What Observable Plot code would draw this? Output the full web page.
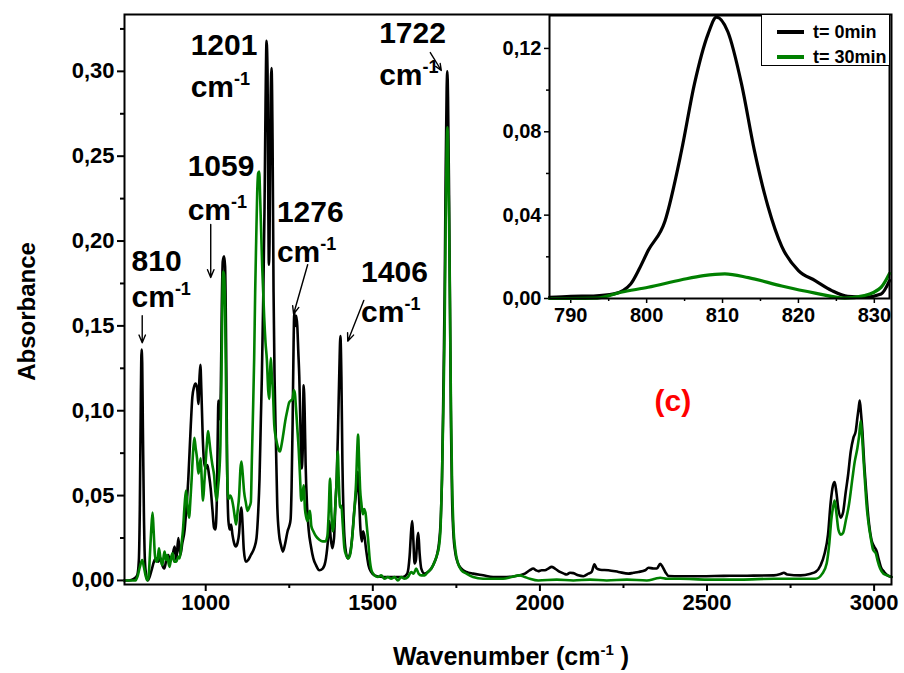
<!DOCTYPE html>
<html><head><meta charset="utf-8">
<script src="https://cdn.jsdelivr.net/npm/d3@7"></script>
<script src="https://cdn.jsdelivr.net/npm/@observablehq/plot@0.6"></script>
<style>
body{margin:0;background:#fff;}
#wrap{position:relative;width:904px;height:673px;}
#wrap svg{position:absolute;left:0;top:0;overflow:visible;}
#legend{position:absolute;left:761px;top:15px;width:128px;height:51px;border-left:1.5px solid #000;border-bottom:1.5px solid #000;box-sizing:border-box;background:#fff;font-family:"Liberation Sans",Arial,sans-serif;font-weight:bold;font-size:18px;}
#legend .ln{position:absolute;left:15px;width:27px;height:4px;}
#legend .lt{position:absolute;left:51px;line-height:18px;}
</style>
</head><body>
<div id="wrap"></div>
<script>
// ---------------- data ----------------
const seriesNames = ["t= 0min", "t= 30min"];
const seriesColors = ["#000000", "#008000"];

// main spectrum, t = 0 min : [wavenumber (cm-1), absorbance]
const black0 = [[757,0.000],[770,0.000],[785,0.001],[795,0.003],[800,0.012],[803,0.045],[806,0.110],[808,0.136],[810,0.128],[812,0.090],[815,0.040],[818,0.012],[822,0.003],[827,0.000],[832,0.002],[838,0.006],[845,0.011],[852,0.013],[858,0.011],[865,0.013],[870,0.009],[876,0.007],[882,0.012],[888,0.015],[893,0.011],[900,0.014],[907,0.020],[912,0.012],[918,0.025],[924,0.015],[930,0.022],[937,0.030],[943,0.045],[948,0.060],[955,0.090],[960,0.108],[965,0.114],[970,0.116],[975,0.112],[978,0.104],[981,0.118],[984,0.127],[987,0.112],[991,0.085],[995,0.070],[1000,0.066],[1005,0.068],[1010,0.062],[1015,0.054],[1020,0.042],[1025,0.031],[1029,0.030],[1033,0.045],[1036,0.085],[1038,0.106],[1041,0.095],[1045,0.110],[1048,0.160],[1051,0.188],[1055,0.191],[1058,0.185],[1061,0.140],[1064,0.070],[1068,0.035],[1072,0.030],[1076,0.033],[1080,0.027],[1085,0.022],[1090,0.020],[1095,0.022],[1100,0.028],[1104,0.040],[1107,0.043],[1110,0.034],[1114,0.018],[1120,0.011],[1127,0.012],[1135,0.015],[1145,0.019],[1152,0.025],[1157,0.040],[1161,0.060],[1165,0.095],[1168,0.120],[1172,0.165],[1176,0.220],[1179,0.280],[1182,0.318],[1185,0.300],[1187,0.230],[1189,0.186],[1191,0.200],[1194,0.280],[1197,0.302],[1200,0.260],[1203,0.170],[1206,0.120],[1210,0.082],[1214,0.045],[1219,0.028],[1225,0.021],[1231,0.017],[1238,0.022],[1245,0.029],[1250,0.032],[1254,0.036],[1257,0.055],[1260,0.092],[1263,0.140],[1265,0.158],[1268,0.150],[1271,0.156],[1274,0.150],[1277,0.135],[1280,0.120],[1283,0.095],[1287,0.066],[1290,0.075],[1293,0.115],[1296,0.100],[1299,0.068],[1303,0.045],[1308,0.030],[1315,0.020],[1322,0.013],[1330,0.009],[1340,0.006],[1350,0.007],[1358,0.011],[1365,0.022],[1370,0.035],[1374,0.025],[1379,0.019],[1384,0.025],[1388,0.045],[1392,0.060],[1396,0.090],[1400,0.125],[1403,0.144],[1406,0.120],[1409,0.070],[1413,0.035],[1418,0.019],[1425,0.013],[1432,0.016],[1438,0.025],[1444,0.040],[1450,0.052],[1455,0.064],[1459,0.048],[1463,0.030],[1467,0.023],[1471,0.029],[1475,0.026],[1480,0.018],[1487,0.009],[1495,0.005],[1505,0.003],[1530,0.002],[1560,0.002],[1590,0.002],[1603,0.004],[1610,0.014],[1615,0.030],[1618,0.035],[1621,0.025],[1625,0.010],[1629,0.012],[1633,0.024],[1636,0.028],[1640,0.016],[1645,0.007],[1655,0.004],[1665,0.005],[1675,0.007],[1685,0.011],[1692,0.015],[1698,0.022],[1703,0.035],[1707,0.060],[1711,0.110],[1715,0.170],[1718,0.240],[1721,0.290],[1723,0.300],[1725,0.285],[1728,0.230],[1731,0.160],[1734,0.090],[1737,0.050],[1741,0.028],[1747,0.016],[1755,0.010],[1765,0.007],[1780,0.005],[1800,0.004],[1830,0.003],[1860,0.002],[1890,0.002],[1925,0.0025],[1955,0.004],[1970,0.006],[1980,0.007],[1988,0.006],[1995,0.0055],[2005,0.006],[2015,0.006],[2025,0.007],[2035,0.008],[2045,0.007],[2060,0.005],[2072,0.004],[2080,0.0035],[2090,0.0045],[2100,0.0043],[2115,0.003],[2130,0.0025],[2145,0.004],[2155,0.005],[2163,0.0095],[2170,0.007],[2180,0.0063],[2205,0.006],[2235,0.005],[2265,0.004],[2280,0.0045],[2295,0.005],[2315,0.006],[2325,0.0075],[2340,0.007],[2350,0.007],[2360,0.0098],[2367,0.008],[2375,0.005],[2385,0.0026],[2420,0.0025],[2480,0.0025],[2550,0.0027],[2620,0.0028],[2700,0.003],[2720,0.0038],[2730,0.0045],[2740,0.0035],[2780,0.003],[2810,0.004],[2825,0.005],[2840,0.009],[2852,0.016],[2862,0.027],[2870,0.046],[2877,0.056],[2882,0.058],[2887,0.052],[2893,0.042],[2900,0.037],[2907,0.040],[2915,0.052],[2922,0.062],[2930,0.076],[2938,0.084],[2945,0.088],[2950,0.096],[2954,0.102],[2957,0.106],[2961,0.098],[2965,0.088],[2970,0.070],[2975,0.056],[2980,0.043],[2985,0.033],[2992,0.024],[3000,0.020],[3008,0.017],[3013,0.013],[3020,0.008],[3030,0.005],[3040,0.003],[3052,0.002]];

// main spectrum, t = 30 min
const green30 = [[757,0.000],[790,0.000],[797,0.003],[803,0.008],[810,0.012],[815,0.008],[820,0.003],[825,0.000],[829,0.002],[833,0.015],[837,0.030],[841,0.040],[844,0.030],[848,0.015],[852,0.011],[856,0.012],[860,0.019],[864,0.014],[870,0.009],[874,0.014],[877,0.017],[881,0.012],[885,0.015],[889,0.010],[892,0.008],[897,0.014],[901,0.016],[906,0.011],[912,0.011],[918,0.014],[922,0.013],[928,0.022],[932,0.030],[937,0.045],[941,0.053],[945,0.045],[950,0.037],[955,0.050],[958,0.060],[962,0.075],[966,0.084],[970,0.078],[974,0.072],[978,0.063],[981,0.066],[985,0.072],[988,0.060],[992,0.047],[996,0.058],[1000,0.070],[1004,0.082],[1007,0.088],[1011,0.082],[1015,0.075],[1020,0.068],[1025,0.062],[1029,0.052],[1033,0.047],[1037,0.055],[1040,0.062],[1044,0.080],[1047,0.120],[1050,0.165],[1052,0.182],[1055,0.180],[1058,0.160],[1061,0.110],[1064,0.065],[1068,0.048],[1073,0.050],[1078,0.048],[1083,0.043],[1088,0.036],[1091,0.033],[1095,0.040],[1100,0.050],[1104,0.066],[1107,0.070],[1111,0.062],[1115,0.052],[1120,0.046],[1125,0.041],[1130,0.043],[1135,0.046],[1138,0.070],[1141,0.095],[1145,0.131],[1148,0.170],[1151,0.200],[1154,0.228],[1157,0.240],[1160,0.241],[1163,0.225],[1166,0.205],[1169,0.185],[1172,0.170],[1175,0.155],[1179,0.140],[1183,0.130],[1187,0.112],[1190,0.107],[1193,0.125],[1195,0.131],[1198,0.120],[1201,0.112],[1205,0.092],[1209,0.085],[1213,0.081],[1218,0.077],[1222,0.076],[1227,0.080],[1232,0.086],[1238,0.094],[1244,0.100],[1250,0.105],[1255,0.106],[1260,0.107],[1264,0.112],[1267,0.110],[1270,0.102],[1274,0.090],[1278,0.078],[1282,0.062],[1286,0.047],[1290,0.050],[1293,0.056],[1297,0.042],[1301,0.037],[1305,0.035],[1309,0.040],[1312,0.041],[1316,0.032],[1322,0.029],[1330,0.026],[1340,0.024],[1350,0.023],[1358,0.023],[1364,0.026],[1368,0.040],[1372,0.060],[1376,0.040],[1380,0.029],[1385,0.035],[1389,0.048],[1392,0.060],[1395,0.076],[1398,0.060],[1402,0.043],[1406,0.044],[1410,0.033],[1415,0.019],[1420,0.015],[1427,0.013],[1433,0.016],[1440,0.029],[1446,0.045],[1450,0.058],[1453,0.075],[1456,0.086],[1459,0.070],[1462,0.054],[1466,0.045],[1470,0.039],[1474,0.042],[1478,0.040],[1482,0.032],[1486,0.024],[1491,0.012],[1496,0.006],[1505,0.003],[1515,0.002],[1525,0.003],[1535,0.001],[1545,0.002],[1555,0.001],[1565,0.002],[1575,0.000],[1585,0.002],[1595,0.001],[1605,0.002],[1615,0.005],[1622,0.004],[1630,0.007],[1637,0.004],[1645,0.003],[1655,0.003],[1665,0.005],[1675,0.007],[1685,0.011],[1692,0.015],[1698,0.020],[1703,0.032],[1707,0.060],[1711,0.100],[1715,0.150],[1718,0.210],[1721,0.255],[1723,0.267],[1725,0.258],[1728,0.215],[1731,0.160],[1734,0.100],[1737,0.060],[1741,0.033],[1747,0.018],[1755,0.010],[1765,0.006],[1780,0.004],[1800,0.002],[1830,0.001],[1860,0.001],[1890,0.001],[1915,0.002],[1940,0.003],[1955,0.002],[1970,0.001],[1995,0.000],[2050,0.0005],[2100,0.000],[2150,0.0005],[2200,0.000],[2260,0.0005],[2320,0.000],[2345,0.001],[2360,0.0016],[2380,0.001],[2420,0.001],[2500,0.0005],[2600,0.0005],[2700,0.001],[2780,0.001],[2825,0.001],[2845,0.004],[2858,0.010],[2866,0.022],[2872,0.036],[2878,0.044],[2882,0.047],[2887,0.040],[2893,0.030],[2900,0.027],[2907,0.028],[2915,0.035],[2925,0.045],[2935,0.060],[2942,0.070],[2950,0.078],[2955,0.085],[2960,0.094],[2964,0.085],[2968,0.072],[2973,0.057],[2978,0.043],[2983,0.034],[2990,0.025],[2997,0.018],[3005,0.016],[3010,0.012],[3018,0.007],[3028,0.004],[3040,0.003],[3052,0.002]];

// inset (zoom on the 810 cm-1 band)
const insetBlack = [[787.2,0.0005],[790,0.001],[793,0.0012],[795.7,0.0022],[797.9,0.007],[799,0.014],[800.2,0.023],[802.4,0.037],[804.6,0.071],[806.3,0.103],[808.1,0.127],[809.2,0.135],[810.7,0.128],[812.5,0.103],[814.2,0.071],[816,0.044],[817.8,0.025],[820,0.0134],[822.2,0.0086],[824.4,0.0038],[826.5,0.001],[828.7,0.0006],[830.9,0.0022],[832,0.0086]];
const insetGreen = [[787.2,0.0],[790,0.0],[793.5,0.0002],[796.6,0.003],[800.2,0.0054],[804.6,0.009],[807.5,0.011],[810.3,0.0118],[813.4,0.010],[817.8,0.006],[822.2,0.0026],[826.1,0.0002],[828.7,0.0014],[830.9,0.0054],[832,0.012]];

// ticks
const xMajor = [1000, 1500, 2000, 2500, 3000];
const xMinor = [1250, 1750, 2250, 2750];
const yMajor = [0, 0.05, 0.10, 0.15, 0.20, 0.25, 0.30];
const yMinor = [0.025, 0.075, 0.125, 0.175, 0.225, 0.275, 0.325];
const insetXMajor = [790, 800, 810, 820, 830];
const insetXMinor = [795, 805, 815, 825];
const insetYMajor = [0, 0.04, 0.08, 0.12];
const insetYMinor = [0.02, 0.06, 0.10];

// peak annotations
const peakNumbers = ["810", "1059", "1201", "1276", "1406", "1722"];
const peakNumPos = [[778,0.188],[946,0.244],[955,0.3153],[1213,0.2169],[1465,0.1815],[1519,0.3223]];
const peakCmPos = [[778,0.1668],[946,0.218],[955,0.2905],[1213,0.1933],[1465,0.1579],[1519,0.2976]];
const peakArrows = [[810,0.156,810,0.140],[1015,0.2098,1015,0.1785],[1305,0.186,1263,0.157],[1473,0.165,1425,0.141],[1672,0.3111,1705,0.3005]];
const panelLabel = [{t: "(c)", x: 2398, y: 0.1055}];

// ---------------- drawing ----------------
const FONT = '"Liberation Sans Narrow","Liberation Sans",Arial,sans-serif';
const fmt2 = d => d3.format(".2f")(d).replace(".", ",");
const blank = () => "";
const svgStyle = {fontFamily: FONT, fontWeight: "bold", color: "#000", background: "transparent", overflow: "visible"};

const numLabels = peakNumbers.map((t, i) => ({t, x: peakNumPos[i][0], y: peakNumPos[i][1]}));
const cmLabels = peakCmPos.map(p => ({t: "cm", x: p[0], y: p[1]}));
const arrows = peakArrows.map(a => ({x1: a[0], y1: a[1], x2: a[2], y2: a[3]}));

const main = Plot.plot({
  width: 904, height: 673,
  marginLeft: 124, marginRight: 13, marginTop: 14, marginBottom: 89,
  style: svgStyle,
  x: {domain: [757, 3052]},
  y: {domain: [-0.0024, 0.3335]},
  marks: [
    Plot.axisX(xMinor, {tickSize: 4, tickFormat: blank, strokeWidth: 2, label: null}),
    Plot.axisX(xMajor, {tickSize: 7, tickPadding: 3, tickFormat: d => String(d), fontSize: 22, fontWeight: "bold", strokeWidth: 2, label: null}),
    Plot.axisY(yMinor, {tickSize: 4, tickFormat: blank, strokeWidth: 2, label: null}),
    Plot.axisY(yMajor, {tickSize: 7, tickPadding: 3, tickFormat: fmt2, fontSize: 22, fontWeight: "bold", strokeWidth: 2, label: null}),
    Plot.line(black0, {x: d => d[0], y: d => d[1], stroke: seriesColors[0], strokeWidth: 2.6, curve: "monotone-x"}),
    Plot.line(green30, {x: d => d[0], y: d => d[1], stroke: seriesColors[1], strokeWidth: 2.6, curve: "monotone-x"}),
    Plot.frame({stroke: "#000", strokeWidth: 2}),
    Plot.text(numLabels, {x: "x", y: "y", text: "t", textAnchor: "start", fontSize: 30, fontWeight: "bold", fill: "#000"}),
    Plot.text(cmLabels, {x: "x", y: "y", text: "t", textAnchor: "start", fontSize: 30, fontWeight: "bold", fill: "#000", className: "cmsup"}),
    Plot.arrow(arrows, {x1: "x1", y1: "y1", x2: "x2", y2: "y2", stroke: "#000", strokeWidth: 1.4, headLength: 9, headAngle: 45}),
    Plot.text(panelLabel, {x: "x", y: "y", text: "t", fill: "#ff0000", fontSize: 30, fontWeight: "bold"}),
    Plot.text(["Absorbance"], {frameAnchor: "left", textAnchor: "middle", dx: -97, dy: 12, rotate: -90, fontSize: 24, fontWeight: "bold"}),
    Plot.text(["Wavenumber (cm"], {frameAnchor: "bottom", textAnchor: "middle", dx: 3, dy: 80, fontSize: 25, fontWeight: "bold", className: "xlab"})
  ]
});

const inset = Plot.plot({
  width: 904, height: 673,
  marginLeft: 549, marginRight: 15, marginTop: 15, marginBottom: 375,
  style: svgStyle,
  x: {domain: [787.2, 832]},
  y: {domain: [0, 0.1358]},
  marks: [
    Plot.axisX(insetXMinor, {tickSize: 3, tickFormat: blank, strokeWidth: 1.5, label: null}),
    Plot.axisX(insetXMajor, {tickSize: 5, tickPadding: 4, tickFormat: d => String(d), fontSize: 20, fontWeight: "bold", strokeWidth: 1.5, label: null}),
    Plot.axisY(insetYMinor, {tickSize: 3, tickFormat: blank, strokeWidth: 1.5, label: null}),
    Plot.axisY(insetYMajor, {tickSize: 5, tickPadding: 3, tickFormat: fmt2, fontSize: 20, fontWeight: "bold", strokeWidth: 1.5, label: null}),
    Plot.line(insetBlack, {x: d => d[0], y: d => d[1], stroke: seriesColors[0], strokeWidth: 3.2, curve: "monotone-x"}),
    Plot.line(insetGreen, {x: d => d[0], y: d => d[1], stroke: seriesColors[1], strokeWidth: 3.2, curve: "monotone-x"}),
    Plot.frame({stroke: "#000", strokeWidth: 2})
  ]
});

const wrap = document.getElementById("wrap");
wrap.appendChild(main);
wrap.appendChild(inset);

// superscripts "-1"
d3.select(main).selectAll(".cmsup text").each(function() {
  d3.select(this).append("tspan").attr("dy", -12).attr("font-size", 18).text("-1");
});
d3.select(main).selectAll(".xlab text").each(function() {
  const t = d3.select(this);
  t.append("tspan").attr("dy", -10).attr("font-size", 15).text("-1");
  t.append("tspan").attr("dy", 10).attr("font-size", 25).text(" )");
});

// legend
const legend = document.createElement("div");
legend.id = "legend";
seriesNames.forEach((name, i) => {
  const cy = 17 + i * 25;
  const ln = document.createElement("span");
  ln.className = "ln"; ln.style.top = (cy - 2) + "px"; ln.style.background = seriesColors[i];
  const lt = document.createElement("span");
  lt.className = "lt"; lt.style.top = (cy - 9) + "px"; lt.textContent = name;
  legend.appendChild(ln); legend.appendChild(lt);
});
wrap.appendChild(legend);
</script>
</body></html>
